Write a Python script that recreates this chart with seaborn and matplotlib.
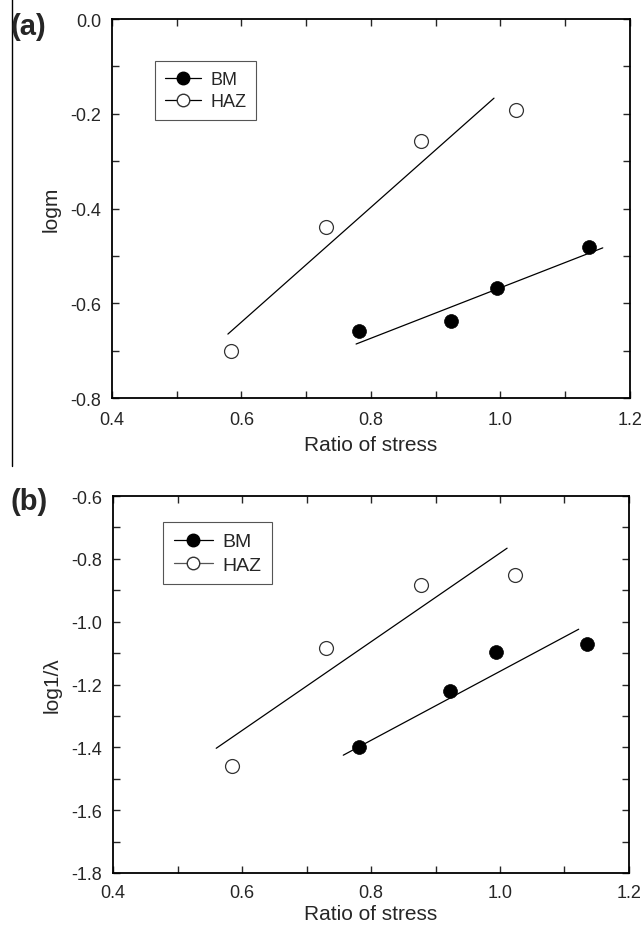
import numpy as np
import pandas as pd
import seaborn as sns
import matplotlib.pyplot as plt
from matplotlib.lines import Line2D
from matplotlib.ticker import MultipleLocator

# Panel (a): logm vs ratio of stress
a_bm_x = [0.781, 0.924, 0.995, 1.137]
a_bm_y = [-0.658, -0.637, -0.568, -0.481]
a_haz_x = [0.584, 0.731, 0.877, 1.024]
a_haz_y = [-0.700, -0.439, -0.257, -0.192]
a_bm_fit_x = [0.777, 1.158]
a_bm_fit_y = [-0.686, -0.483]
a_haz_fit_x = [0.579, 0.990]
a_haz_fit_y = [-0.665, -0.167]

# Panel (b): log1/lambda vs ratio of stress
b_bm_x = [0.781, 0.922, 0.994, 1.135]
b_bm_y = [-1.399, -1.221, -1.097, -1.071]
b_haz_x = [0.584, 0.730, 0.877, 1.023]
b_haz_y = [-1.460, -1.084, -0.883, -0.852]
b_bm_fit_x = [0.757, 1.122]
b_bm_fit_y = [-1.425, -1.024]
b_haz_fit_x = [0.560, 1.011]
b_haz_fit_y = [-1.403, -0.766]

sns.set_style('ticks')
plt.rcParams['font.family'] = ['Liberation Sans', 'DejaVu Sans']

fig = plt.figure(figsize=(6.44, 9.28), dpi=100)
ax_a = fig.add_axes([0.1739, 0.5700, 0.8043, 0.4084])
ax_b = fig.add_axes([0.1755, 0.0582, 0.8012, 0.4062])

panels = [
    (ax_a, a_bm_x, a_bm_y, a_haz_x, a_haz_y, a_bm_fit_x, a_bm_fit_y,
     a_haz_fit_x, a_haz_fit_y, (-0.8, 0.0), 'logm', (0.083, 0.889), 13, 5.5, '(a)'),
    (ax_b, b_bm_x, b_bm_y, b_haz_x, b_haz_y, b_bm_fit_x, b_bm_fit_y,
     b_haz_fit_x, b_haz_fit_y, (-1.8, -0.6), 'log1/λ', (0.097, 0.931), 14, 2, '(b)'),
]

for (ax, bx, by, hx, hy, bfx, bfy, hfx, hfy, ylim, ylab, leg_pos, leg_fs, xpad, tag) in panels:
    fits = pd.DataFrame({'x': bfx + hfx, 'y': bfy + hfy,
                         'g': ['BM'] * len(bfx) + ['HAZ'] * len(hfx)})
    sns.lineplot(data=fits, x='x', y='y', units='g', estimator=None,
                 color='black', lw=0.9, ax=ax, legend=False, sort=False)
    sns.scatterplot(x=bx, y=by, ax=ax, color='black', s=100,
                    edgecolor='black', linewidth=0.5, zorder=3)
    sns.scatterplot(x=hx, y=hy, ax=ax, facecolor='white', s=100,
                    edgecolor='#333333', linewidth=0.9, zorder=3)

    ax.set_xlim(0.4, 1.2)
    ax.set_ylim(*ylim)
    ax.xaxis.set_major_locator(MultipleLocator(0.2))
    ax.xaxis.set_minor_locator(MultipleLocator(0.1))
    ax.yaxis.set_major_locator(MultipleLocator(0.2))
    ax.yaxis.set_minor_locator(MultipleLocator(0.1))
    ax.xaxis.set_major_formatter(lambda v, p: f'{v:.1f}')
    ax.yaxis.set_major_formatter(lambda v, p: f'{v:.1f}')
    ax.tick_params(which='both', direction='in', top=True, right=True,
                   length=5, width=1.0, labelsize=13)
    ax.tick_params(axis='y', pad=8)
    ax.tick_params(axis='x', pad=9 if tag == '(a)' else 8)
    for sp in ax.spines.values():
        sp.set_linewidth(1.3)
        sp.set_color('black')
    ax.set_xlabel('Ratio of stress', fontsize=15, labelpad=xpad)
    ax.set_ylabel(ylab, fontsize=15, labelpad=7)

    handles = [
        Line2D([], [], color='black', lw=0.9, marker='o', ms=9,
               markerfacecolor='black', markeredgecolor='black'),
        Line2D([], [], color='#555555' if tag == '(b)' else 'black', lw=0.9,
               marker='o', ms=9, markerfacecolor='white',
               markeredgecolor='#333333'),
    ]
    leg = ax.legend(handles, ['BM', 'HAZ'], loc='upper left',
                    bbox_to_anchor=leg_pos, borderaxespad=0, fontsize=leg_fs,
                    frameon=True, fancybox=False, framealpha=1,
                    edgecolor='#555555', handlelength=2.0, handletextpad=0.5,
                    borderpad=0.55, labelspacing=0.3)
    leg.get_frame().set_linewidth(0.8)

fig.text(0.017, 0.971, '(a)', fontsize=21, fontweight='bold', ha='left', va='center')
fig.text(0.017, 0.459, '(b)', fontsize=21, fontweight='bold', ha='left', va='center')
fig.add_artist(Line2D([12 / 644, 12 / 644], [1.0, 1 - 467 / 928],
                      transform=fig.transFigure, color='black', lw=1.0))

fig.savefig('out.png', dpi=100)
